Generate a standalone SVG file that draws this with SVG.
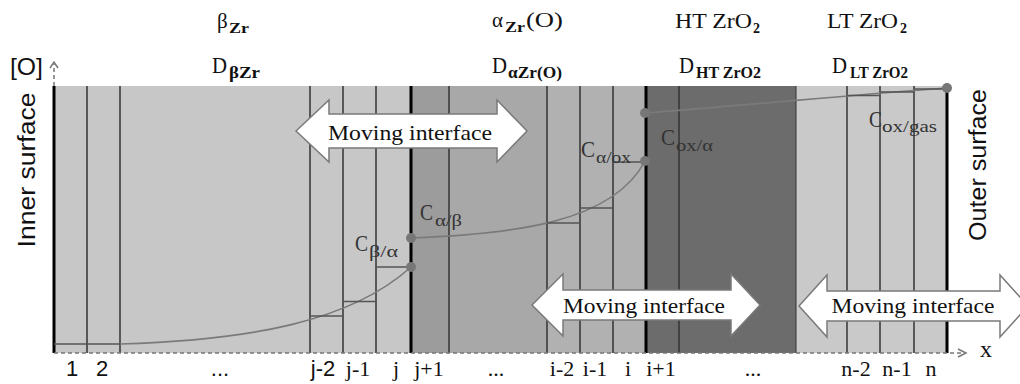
<svg xmlns="http://www.w3.org/2000/svg" width="1020" height="384" viewBox="0 0 1020 384">
<defs>
<style>
.serif{font-family:"Liberation Serif","DejaVu Serif",serif;fill:#111}
.sans{font-family:"Liberation Sans","Open Sans",sans-serif;fill:#111}
.sub{font-weight:bold}
.cell{stroke:#333;stroke-width:1.5}
.thick{stroke:#000;stroke-width:3}
.axis{stroke:#777;stroke-width:1.5;stroke-dasharray:4 3;fill:none}
.chev{stroke:#777;stroke-width:1.5;fill:none}
.curve{stroke:#7a7a7a;stroke-width:1.6;fill:none}
.step{stroke:#555;stroke-width:1.6}
.dot{fill:#777}
.arrow{fill:#fff;stroke:#7a7a7a;stroke-width:1.5}
.clab{font-family:"Liberation Serif","DejaVu Serif",serif;fill:#333}
</style>
</defs>
<rect width="1020" height="384" fill="#fff"/>

<g id="regions">
<rect x="54" y="86" width="357" height="267" fill="#c7c7c7"/>
<rect x="411" y="86" width="38" height="267" fill="#9c9c9c"/>
<rect x="449" y="86" width="98" height="267" fill="#a8a8a8"/>
<rect x="547" y="86" width="99" height="267" fill="#b1b1b1"/>
<rect x="646" y="86" width="150" height="267" fill="#6c6c6c"/>
<rect x="796" y="86" width="151" height="267" fill="#c9c9c9"/>
</g>

<g id="cells">
<line class="cell" x1="87" y1="86" x2="87" y2="353"/>
<line class="cell" x1="120" y1="86" x2="120" y2="353"/>
<line class="cell" x1="310" y1="86" x2="310" y2="353"/>
<line class="cell" x1="343" y1="86" x2="343" y2="353"/>
<line class="cell" x1="376" y1="86" x2="376" y2="353"/>
<line class="cell" x1="449" y1="86" x2="449" y2="353"/>
<line class="cell" x1="547" y1="86" x2="547" y2="353"/>
<line class="cell" x1="580" y1="86" x2="580" y2="353"/>
<line class="cell" x1="613" y1="86" x2="613" y2="353"/>
<line class="cell" x1="679" y1="86" x2="679" y2="353"/>
<line class="cell" x1="796" y1="86" x2="796" y2="353" style="stroke-width:1"/>
<line class="cell" x1="847" y1="86" x2="847" y2="353"/>
<line class="cell" x1="880" y1="86" x2="880" y2="353"/>
<line class="cell" x1="914" y1="86" x2="914" y2="353"/>
<line class="thick" x1="54" y1="86" x2="54" y2="353"/>
<line class="thick" x1="411" y1="86" x2="411" y2="353"/>
<line class="thick" x1="646" y1="86" x2="646" y2="353"/>
<line class="thick" x1="947" y1="88" x2="947" y2="353"/>
</g>

<g id="axes">
<line class="axis" x1="54" y1="86" x2="54" y2="64"/>
<polyline class="chev" points="50,68 54,62 58,68"/>
<line class="axis" x1="54" y1="353" x2="964" y2="353"/>
<polyline class="chev" points="958,349 966,353 958,357"/>
<text class="serif" x="986" y="357" font-size="24" text-anchor="middle">x</text>
<text class="sans" x="10" y="75" font-size="24" textLength="33" lengthAdjust="spacingAndGlyphs">[O]</text>
</g>

<g id="connectors">
<path class="curve" d="M120,344 C250,340 350,322 411,267"/>
<path class="curve" d="M411,238 C510,234 612,224 645,161"/>
<path class="curve" d="M645,113 C750,105 850,95 947,88"/>
<line class="step" x1="54" y1="344" x2="120" y2="344"/>
<line class="step" x1="310" y1="316" x2="343" y2="316"/>
<line class="step" x1="343" y1="301.5" x2="376" y2="301.5"/>
<line class="step" x1="376" y1="267" x2="411" y2="267"/>
<line class="step" x1="547" y1="223" x2="580" y2="223"/>
<line class="step" x1="580" y1="208" x2="613" y2="208"/>
<line class="step" x1="613" y1="162" x2="646" y2="162"/>
<line class="step" x1="847" y1="95.5" x2="880" y2="95.5"/>
<line class="step" x1="880" y1="92" x2="914" y2="92"/>
<line class="step" x1="914" y1="89" x2="947" y2="89"/>
</g>

<g id="points">
<circle class="dot" cx="411" cy="238" r="5"/>
<circle class="dot" cx="411" cy="267" r="5"/>
<circle class="dot" cx="645" cy="161" r="5"/>
<circle class="dot" cx="645" cy="113" r="5"/>
<circle class="dot" cx="947" cy="88" r="5"/>
</g>

<g id="conc-labels">
<text class="clab" x="355" y="251" font-size="23" textLength="13" lengthAdjust="spacingAndGlyphs">C</text>
<text class="clab" x="369" y="257" font-size="16" textLength="29" lengthAdjust="spacingAndGlyphs">β/α</text>
<text class="clab" x="420" y="220" font-size="23" textLength="13" lengthAdjust="spacingAndGlyphs">C</text>
<text class="clab" x="435" y="226" font-size="16" textLength="27" lengthAdjust="spacingAndGlyphs">α/β</text>
<text class="clab" x="581" y="157" font-size="23" textLength="14" lengthAdjust="spacingAndGlyphs">C</text>
<text class="clab" x="596" y="163" font-size="16" textLength="35" lengthAdjust="spacingAndGlyphs">α/ox</text>
<text class="clab" x="661" y="145" font-size="23" textLength="14" lengthAdjust="spacingAndGlyphs">C</text>
<text class="clab" x="676" y="151" font-size="16" textLength="37" lengthAdjust="spacingAndGlyphs">ox/α</text>
<text class="clab" x="869" y="127" font-size="23" textLength="13" lengthAdjust="spacingAndGlyphs">C</text>
<text class="clab" x="882" y="132" font-size="16" textLength="55" lengthAdjust="spacingAndGlyphs">ox/gas</text>
</g>

<g id="phase-labels">
<text class="serif" x="217" y="28" font-size="21">β</text>
<text class="serif sub" x="229" y="33" font-size="14" textLength="20" lengthAdjust="spacingAndGlyphs">Zr</text>
<text class="serif" x="492" y="27" font-size="21">α</text>
<text class="serif sub" x="505" y="32" font-size="14" textLength="20" lengthAdjust="spacingAndGlyphs">Zr</text>
<text class="serif" x="526" y="27" font-size="21" textLength="37" lengthAdjust="spacingAndGlyphs">(O)</text>
<text class="serif" x="675" y="28" font-size="21" textLength="77" lengthAdjust="spacingAndGlyphs">HT ZrO</text>
<text class="serif sub" x="753" y="33" font-size="14">2</text>
<text class="serif" x="827" y="28" font-size="21" textLength="71" lengthAdjust="spacingAndGlyphs">LT ZrO</text>
<text class="serif sub" x="900" y="33" font-size="14">2</text>

<text class="serif" x="212" y="73" font-size="24" textLength="15" lengthAdjust="spacingAndGlyphs">D</text>
<text class="serif sub" x="229" y="78" font-size="16" textLength="31" lengthAdjust="spacingAndGlyphs">βZr</text>
<text class="serif" x="492" y="73" font-size="24" textLength="15" lengthAdjust="spacingAndGlyphs">D</text>
<text class="serif sub" x="508" y="78" font-size="16" textLength="54" lengthAdjust="spacingAndGlyphs">αZr(O)</text>
<text class="serif" x="679" y="73" font-size="24" textLength="15" lengthAdjust="spacingAndGlyphs">D</text>
<text class="serif sub" x="696" y="78" font-size="16" textLength="65" lengthAdjust="spacingAndGlyphs">HT ZrO2</text>
<text class="serif" x="832" y="73" font-size="24" textLength="15" lengthAdjust="spacingAndGlyphs">D</text>
<text class="serif sub" x="850" y="78" font-size="16" textLength="58" lengthAdjust="spacingAndGlyphs">LT ZrO2</text>
</g>

<g id="surface-labels">
<text class="sans" transform="translate(35,170) rotate(-90)" font-size="23" text-anchor="middle" textLength="155" lengthAdjust="spacingAndGlyphs">Inner surface</text>
<text class="sans" transform="translate(986,165) rotate(-90)" font-size="23" text-anchor="middle" textLength="152" lengthAdjust="spacingAndGlyphs">Outer surface</text>
</g>

<g id="arrow-beta-alpha">
<polygon class="arrow" points="296,131 329,100 329,114 497,114 497,100 527,131 497,162 497,148 329,148 329,162"/>
<text class="serif" x="410" y="140" font-size="22" text-anchor="middle" textLength="164" lengthAdjust="spacingAndGlyphs">Moving interface</text>
</g>
<g id="arrow-alpha-ox">
<polygon class="arrow" points="532,305 563,274 563,290 731,290 731,274 760,305 731,336 731,320 563,320 563,336"/>
<text class="serif" x="644" y="313" font-size="22" text-anchor="middle" textLength="162" lengthAdjust="spacingAndGlyphs">Moving interface</text>
</g>
<g id="arrow-outer">
<polygon class="arrow" points="799,306 827,275 827,291 1000,291 1000,275 1028,306 1000,337 1000,321 827,321 827,337"/>
<text class="serif" x="913" y="313" font-size="22" text-anchor="middle" textLength="163" lengthAdjust="spacingAndGlyphs">Moving interface</text>
</g>

<g id="cell-labels" font-size="22" text-anchor="middle">
<text class="sans" x="72" y="376">1</text>
<text class="sans" x="102" y="376">2</text>
<text class="sans" x="220" y="376">...</text>
<text class="sans" x="323" y="376">j-2</text>
<text class="serif" x="358" y="376">j-1</text>
<text class="serif" x="396" y="376">j</text>
<text class="serif" x="429" y="376">j+1</text>
<text class="serif" x="496" y="376">...</text>
<text class="serif" x="562" y="376">i-2</text>
<text class="serif" x="595" y="376">i-1</text>
<text class="serif" x="628" y="376">i</text>
<text class="serif" x="661" y="376">i+1</text>
<text class="serif" x="753" y="376">...</text>
<text class="serif" x="856" y="376">n-2</text>
<text class="serif" x="897" y="376">n-1</text>
<text class="serif" x="931" y="376">n</text>
</g>
</svg>
